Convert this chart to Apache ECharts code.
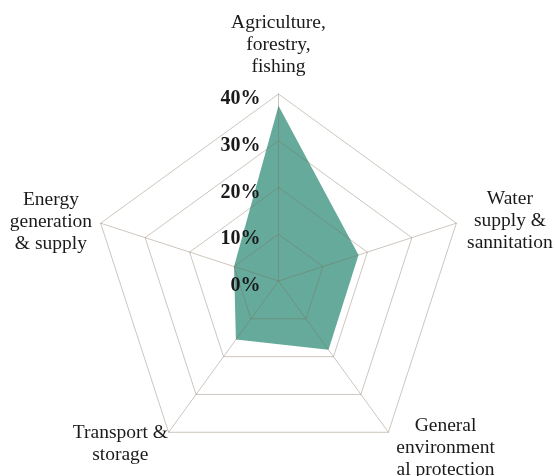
<!DOCTYPE html>
<html>
<head>
<meta charset="utf-8">
<script src="https://cdn.jsdelivr.net/npm/echarts@6/dist/echarts.min.js"></script>
<style>
  html, body { margin: 0; padding: 0; background: #ffffff; }
  #chart { width: 555px; height: 476px; }
</style>
</head>
<body>
<div id="chart"></div>
<script>
// Sectors, listed counter-clockwise from the top axis
const sectors = [
  'Agriculture,\nforestry,\nfishing',
  'Energy\ngeneration\n& supply',
  'Transport &\nstorage',
  'General\nenvironment\nal protection',
  'Water\nsupply &\nsannitation'
];
// Share of spending per sector (%)
const shares = [37.5, 10, 15.5, 18.2, 18];
const axisMax = 40;
const tickStep = 10;

const serif = "'Liberation Serif', 'Times New Roman', serif";

// Name placement per sector: distance beyond the rim, then a sideways nudge
const nameLayout = [
  { gap: 49, padding: [0, 0, 0, 0] },
  { gap: 5, padding: [0, 90, 0, 0] },
  { gap: 14, padding: [0, 80, 0, 0] },
  { gap: 19, padding: [0, 0, 0, 92] },
  { gap: 9, padding: [0, 0, 0, 90] }
];

const indicator = sectors.map((name, i) => ({
  name: name,
  max: axisMax,
  min: 0,
  nameGap: nameLayout[i].gap,
  nameTextStyle: {
    align: 'center',
    verticalAlign: 'middle',
    padding: nameLayout[i].padding
  },
  axisLabel: { show: i === 0 }
}));

const chart = echarts.init(document.getElementById('chart'), null, { renderer: 'canvas' });
chart.setOption({
  backgroundColor: '#ffffff',
  animation: false,
  radar: {
    z: 3,
    center: [278.5, 281],
    radius: 187,
    startAngle: 90,
    splitNumber: axisMax / tickStep,
    shape: 'polygon',
    indicator: indicator,
    axisName: {
      color: '#1a1a1a',
      fontFamily: serif,
      fontSize: 19.5,
      lineHeight: 22
    },
    axisLine: { lineStyle: { color: 'rgba(126,104,84,0.38)', width: 1 } },
    splitLine: { lineStyle: { color: 'rgba(126,104,84,0.38)', width: 1 } },
    splitArea: { show: false },
    axisTick: { show: false },
    axisLabel: {
      show: true,
      margin: 18,
      verticalAlign: 'top',
      lineHeight: 10,
      color: '#1a1a1a',
      fontFamily: serif,
      fontSize: 20,
      fontWeight: 'bold',
      formatter: '{value}%'
    }
  },
  series: [{
    type: 'radar',
    z: 2,
    symbol: 'none',
    lineStyle: { width: 0 },
    areaStyle: { color: '#65aa9b', opacity: 1 },
    data: [{ value: shares }]
  }]
});
</script>
</body>
</html>
